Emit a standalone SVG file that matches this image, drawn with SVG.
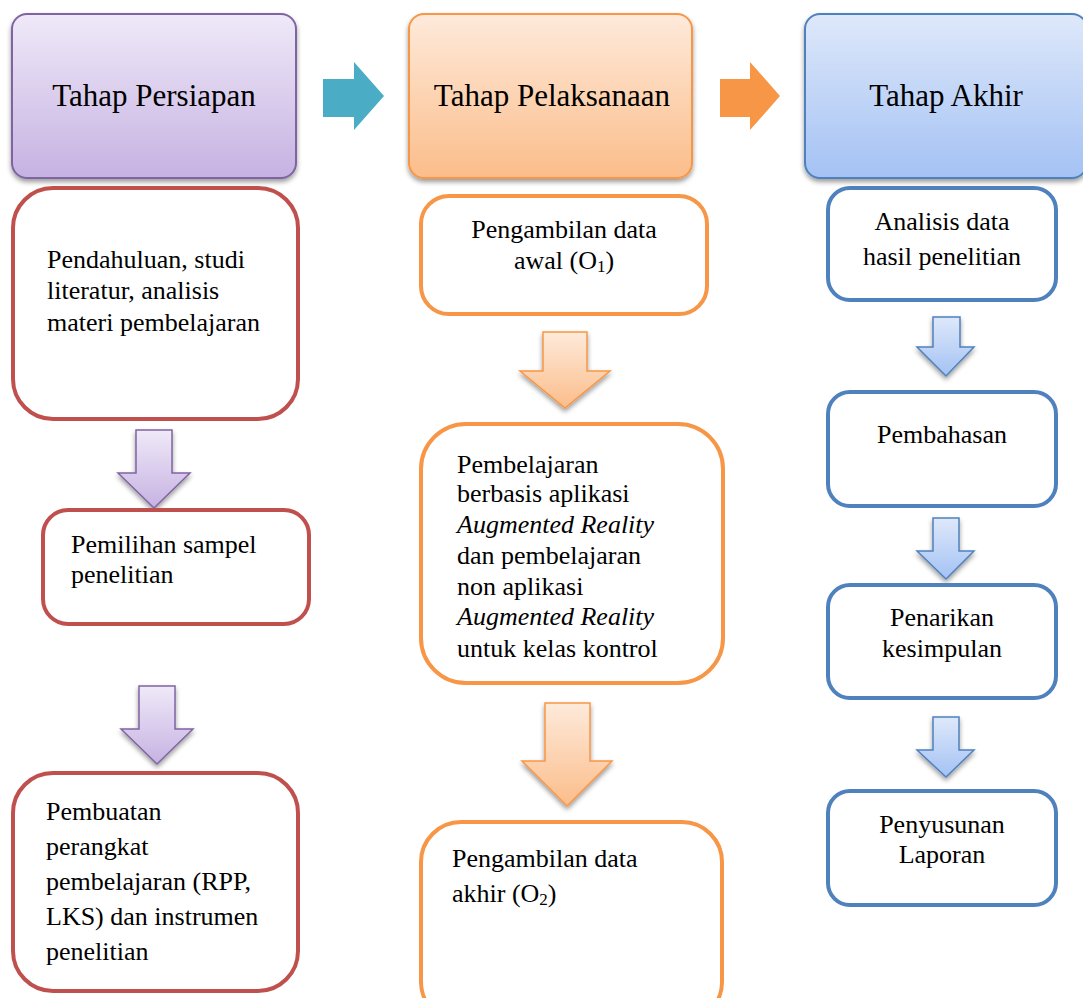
<svg xmlns="http://www.w3.org/2000/svg" width="1083" height="998" viewBox="0 0 1083 998">
<defs>
<linearGradient id="gPur" x1="0" y1="0" x2="0" y2="1"><stop offset="0" stop-color="#EFE9F8"/><stop offset="1" stop-color="#C6B2E2"/></linearGradient>
<linearGradient id="gOra" x1="0" y1="0" x2="0" y2="1"><stop offset="0" stop-color="#FEEADB"/><stop offset="1" stop-color="#FBBD8A"/></linearGradient>
<linearGradient id="gBlu" x1="0" y1="0" x2="0" y2="1"><stop offset="0" stop-color="#DEE8FA"/><stop offset="1" stop-color="#A4C2F4"/></linearGradient>
<filter id="sh" x="-10%" y="-10%" width="125%" height="130%">
<feGaussianBlur in="SourceAlpha" stdDeviation="2.5"/>
<feOffset dx="0" dy="3"/>
<feComponentTransfer><feFuncA type="linear" slope="0.4"/></feComponentTransfer>
<feMerge><feMergeNode/><feMergeNode in="SourceGraphic"/></feMerge>
</filter>
</defs>
<style>
svg text, svg tspan, #diagram text{font-family:Liberation Serif, Times New Roman, serif !important;fill:#000}
.h{font-size:31px;text-anchor:middle}
.t{font-size:26px}
.c{text-anchor:middle}
.i{font-style:italic}
.sub{font-size:17px}
.red{fill:#fff;stroke:#C0504D;stroke-width:4}
.ora{fill:#fff;stroke:#F79646;stroke-width:4}
.blu{fill:#fff;stroke:#4F81BD;stroke-width:4}
.ap{fill:url(#gPur);stroke:#8064A2;stroke-width:1.5;filter:url(#sh)}
.ao{fill:url(#gOra);stroke:#F79646;stroke-width:1.5;filter:url(#sh)}
.ab{fill:url(#gBlu);stroke:#4F81BD;stroke-width:1.5;filter:url(#sh)}
</style>
<rect width="1083" height="998" fill="#fff"/>
<g id="diagram">
<g id="h-persiapan">
<rect x="12" y="14" width="284" height="164" rx="15" fill="url(#gPur)" stroke="#8064A2" stroke-width="2" filter="url(#sh)"/>
<text class="h" font-family="Liberation Serif" style="font-family:Liberation Serif !important" x="154" y="106">Tahap Persiapan</text>
</g>
<g id="h-pelaksanaan">
<rect x="409" y="14" width="283" height="164" rx="15" fill="url(#gOra)" stroke="#F79646" stroke-width="2" filter="url(#sh)"/>
<text class="h" font-family="Liberation Serif" style="font-family:Liberation Serif !important" x="552" y="106">Tahap Pelaksanaan</text>
</g>
<g id="h-akhir">
<rect x="805" y="14" width="282" height="164" rx="15" fill="url(#gBlu)" stroke="#4F81BD" stroke-width="2" filter="url(#sh)"/>
<text class="h" font-family="Liberation Serif" style="font-family:Liberation Serif !important" x="946" y="106">Tahap Akhir</text>
</g>

<g id="connectors">
<polygon points="323,79 354,79 354,62 384,96 354,130 354,117 323,117" fill="#4BACC6"/>
<polygon points="720,79 750,79 750,62 780,96 750,130 750,117 720,117" fill="#F79646"/>
<polygon class="ap" points="136,430 172,430 172,473 190,473 154,508 118,473 136,473"/>
<polygon class="ap" points="139,686 175,686 175,729 193,729 157,764 121,729 139,729"/>
<polygon class="ao" points="543,332 587,332 587,371 610,371 565,408 520,371 543,371"/>
<polygon class="ao" points="545,703 590,703 590,761 612,761 567,806 522,761 545,761"/>
<polygon class="ab" points="933,317 960,317 960,347 974,347 946,376 917,347 933,347"/>
<polygon class="ab" points="933,518 959,518 959,551 974,551 946,579 917,551 933,551"/>
<polygon class="ab" points="933,717 959,717 959,750 974,750 946,777 917,750 933,750"/>
</g>

<g id="p1">
<rect class="red" x="13" y="188" width="285" height="231" rx="40"/>
<text class="t" font-family="Liberation Serif" style="font-family:Liberation Serif !important" x="47" y="268">Pendahuluan, studi</text>
<text class="t" font-family="Liberation Serif" style="font-family:Liberation Serif !important" x="47" y="299">literatur, analisis</text>
<text class="t" font-family="Liberation Serif" style="font-family:Liberation Serif !important" x="47" y="331">materi pembelajaran</text>
</g>
<g id="p2">
<rect class="red" x="43" y="510" width="266" height="114" rx="25"/>
<text class="t" font-family="Liberation Serif" style="font-family:Liberation Serif !important" x="71" y="553">Pemilihan sampel</text>
<text class="t" font-family="Liberation Serif" style="font-family:Liberation Serif !important" x="71" y="583">penelitian</text>
</g>
<g id="p3">
<rect class="red" x="13" y="773" width="285" height="218" rx="40"/>
<text class="t" font-family="Liberation Serif" style="font-family:Liberation Serif !important" x="46" y="820">Pembuatan</text>
<text class="t" font-family="Liberation Serif" style="font-family:Liberation Serif !important" x="46" y="855">perangkat</text>
<text class="t" font-family="Liberation Serif" style="font-family:Liberation Serif !important" x="46" y="890">pembelajaran (RPP,</text>
<text class="t" font-family="Liberation Serif" style="font-family:Liberation Serif !important" x="46" y="925">LKS) dan instrumen</text>
<text class="t" font-family="Liberation Serif" style="font-family:Liberation Serif !important" x="46" y="960">penelitian</text>
</g>

<g id="m1">
<rect class="ora" x="421" y="196" width="286" height="118" rx="28"/>
<text class="t c" font-family="Liberation Serif" style="font-family:Liberation Serif !important" x="564" y="238">Pengambilan data</text>
<text class="t c" font-family="Liberation Serif" style="font-family:Liberation Serif !important" x="564" y="269">awal (O<tspan class="sub" dy="3">1</tspan><tspan dy="-3">)</tspan></text>
</g>
<g id="m2">
<rect class="ora" x="421" y="424" width="302" height="259" rx="45"/>
<text class="t" font-family="Liberation Serif" style="font-family:Liberation Serif !important" x="457" y="473">Pembelajaran</text>
<text class="t" font-family="Liberation Serif" style="font-family:Liberation Serif !important" x="457" y="502">berbasis aplikasi</text>
<text class="t i" font-family="Liberation Serif" style="font-family:Liberation Serif !important" x="457" y="533">Augmented Reality</text>
<text class="t" font-family="Liberation Serif" style="font-family:Liberation Serif !important" x="457" y="564">dan pembelajaran</text>
<text class="t" font-family="Liberation Serif" style="font-family:Liberation Serif !important" x="457" y="595">non aplikasi</text>
<text class="t i" font-family="Liberation Serif" style="font-family:Liberation Serif !important" x="457" y="625">Augmented Reality</text>
<text class="t" font-family="Liberation Serif" style="font-family:Liberation Serif !important" x="457" y="657">untuk kelas kontrol</text>
</g>
<g id="m3">
<rect class="ora" x="421" y="822" width="301" height="200" rx="40"/>
<text class="t" font-family="Liberation Serif" style="font-family:Liberation Serif !important" x="452" y="867">Pengambilan data</text>
<text class="t" font-family="Liberation Serif" style="font-family:Liberation Serif !important" x="452" y="902">akhir (O<tspan class="sub" dy="3">2</tspan><tspan dy="-3">)</tspan></text>
</g>

<g id="r1">
<rect class="blu" x="828" y="188" width="228" height="112" rx="22"/>
<text class="t c" font-family="Liberation Serif" style="font-family:Liberation Serif !important" x="942" y="230">Analisis data</text>
<text class="t c" font-family="Liberation Serif" style="font-family:Liberation Serif !important" x="942" y="265">hasil penelitian</text>
</g>
<g id="r2">
<rect class="blu" x="828" y="392" width="228" height="114" rx="22"/>
<text class="t c" font-family="Liberation Serif" style="font-family:Liberation Serif !important" x="942" y="443">Pembahasan</text>
</g>
<g id="r3">
<rect class="blu" x="828" y="585" width="228" height="113" rx="22"/>
<text class="t c" font-family="Liberation Serif" style="font-family:Liberation Serif !important" x="942" y="626">Penarikan</text>
<text class="t c" font-family="Liberation Serif" style="font-family:Liberation Serif !important" x="942" y="657">kesimpulan</text>
</g>
<g id="r4">
<rect class="blu" x="828" y="791" width="228" height="114" rx="22"/>
<text class="t c" font-family="Liberation Serif" style="font-family:Liberation Serif !important" x="942" y="833">Penyusunan</text>
<text class="t c" font-family="Liberation Serif" style="font-family:Liberation Serif !important" x="942" y="863">Laporan</text>
</g>
</g>
</svg>
